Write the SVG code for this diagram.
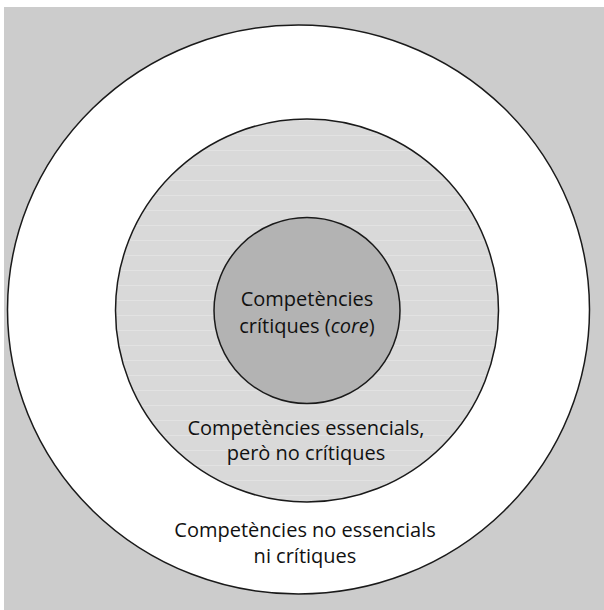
<svg xmlns="http://www.w3.org/2000/svg" width="604" height="610" viewBox="0 0 604 610">
<style>
.ring{stroke:#1a1a1a;stroke-width:1.5}
.t{font-family:"Open Sans","Noto Sans",sans-serif;font-size:20px;fill:#111;text-anchor:middle}
</style>
<defs>
<pattern id="stripes" patternUnits="userSpaceOnUse" width="10" height="15">
<rect width="10" height="15" fill="#d9d9d9"/>
<rect y="0" width="10" height="1" fill="#e2e2e2"/>
</pattern>
</defs>
<rect x="4" y="7" width="600" height="603" fill="#cccccc"/>
<g id="outer">
<ellipse class="ring" cx="298.5" cy="309.5" rx="291" ry="284.5" fill="#ffffff"/>
<text class="t" x="305" y="537">Competències no essencials</text>
<text class="t" x="305" y="563">ni crítiques</text>
</g>
<g id="middle">
<circle class="ring" cx="307" cy="310.5" r="191.5" fill="url(#stripes)"/>
<text class="t" x="306" y="435">Competències essencials,</text>
<text class="t" x="306" y="460">però no crítiques</text>
</g>
<g id="inner">
<circle class="ring" cx="307" cy="310.5" r="93" fill="#b3b3b3"/>
<text class="t" x="307" y="306">Competències</text>
<text class="t" x="307" y="333">crítiques (<tspan font-style="italic">core</tspan>)</text>
</g>
</svg>
